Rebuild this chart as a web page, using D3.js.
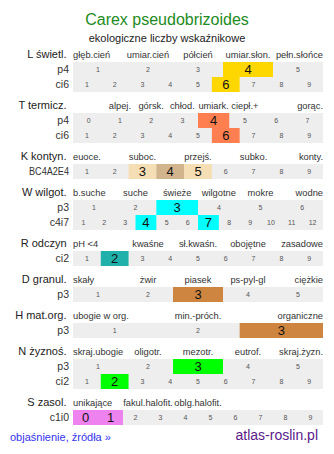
<!DOCTYPE html>
<html>
<head>
<meta charset="utf-8">
<script src="https://cdn.jsdelivr.net/npm/d3@7"></script>
<style>
  html, body { margin: 0; padding: 0; background: #fff; }
  svg { display: block; font-family: "Liberation Sans", Arial, sans-serif; }
</style>
</head>
<body>
<div id="chart"></div>
<script>
// ---- DATA ----
const title = "Carex pseudobrizoides";
const subtitle = "ekologiczne liczby wskaźnikowe";
const sections = ["L świetl.", "T termicz.", "K kontyn.", "W wilgot.", "R odczyn", "D granul.", "H mat.org.", "N żyznoś.", "S zasol."];
const headerL = ["głęb.cień", "umiar.cień", "półcień", "umiar.słon.", "pełn.słońce"];
const headerT = ["", "alpej.", "górsk.", "chłod.", "umiark.", "ciepł.+", "", "gorąc."];
const headerK = ["euoce.", "", "suboc.", "", "przejś.", "", "subko.", "", "konty."];
const headerW = ["b.suche", "suche", "świeże", "wilgotne", "mokre", "wodne"];
const headerR = ["pH <4", "kwaśne", "sł.kwaśn.", "obojętne", "zasadowe"];
const headerD = ["skały", "żwir", "piasek", "ps-pyl-gl", "ciężkie"];
const headerH = ["ubogie w org.", "min.-próch.", "organiczne"];
const headerN = ["skraj.ubogie", "oligotr.", "mezotr.", "eutrof.", "skraj.żyzn."];
const headerS = ["unikające", "fakul.halofit.", "oblg.halofit.", "", ""];
const headers = [headerL, headerT, headerK, headerW, headerR, headerD, headerH, headerN, headerS];

const rowLabels = [["p4", "ci6"], ["p4", "ci6"], ["BC4A2E4"], ["p3", "c4i7"], ["ci2"], ["p3"], ["p3"], ["p3", "ci2"], ["c1i0"]];
// tick label ranges (first, last) of every row
const tickRanges = [[[1, 5], [1, 9]], [[0, 7], [1, 9]], [[1, 9]], [[1, 6], [1, 12]], [[1, 9]], [[1, 5]], [[1, 3]], [[1, 5], [1, 9]], [[0, 9]]];
// indicated values of every row
const values = [[[4], [6]], [[4], [6]], [[4]], [[3], [4, 7]], [[2]], [[3]], [[3]], [[3], [2]], [[0, 1]]];
// secondary (range) values, only continentality
const secondaryValues = [[[], []], [[], []], [[3, 5]], [[], []], [[]], [[]], [[]], [[], []], [[]]];

// ---- STYLE ----
const mainColors = ["#FFD700", "#FF7F50", "#D2B48C", "#00FFFF", "#20B2AA", "#CD853F", "#CD853F", "#00FF00", "#EE82EE"];
const secColors  = ["#FFD700", "#FF7F50", "#F5DEB3", "#00FFFF", "#20B2AA", "#CD853F", "#CD853F", "#00FF00", "#EE82EE"];
const W = 334, H = 454;
const left = 73, right = 323;
const rowH = 15, sectionGap = 21, firstRowY = 62;
const maxRowLabelWidth = 40;

const svg = d3.select("#chart").append("svg").attr("width", W).attr("height", H);

svg.append("text").attr("x", 167).attr("y", 25).attr("text-anchor", "middle")
  .attr("font-size", 16).attr("fill", "#228B22").text(title);
svg.append("text").attr("x", 167).attr("y", 42).attr("text-anchor", "middle")
  .attr("font-size", 11).attr("fill", "#222").text(subtitle);

let y = firstRowY;
sections.forEach((name, i) => {
  const g = svg.append("g");
  const hy = y - 4.5;
  g.append("text").attr("x", 66.5).attr("y", hy).attr("text-anchor", "end")
    .attr("font-size", 11).attr("fill", "#222").text(name);

  const hl = headers[i];
  const hs = d3.scaleBand().domain(d3.range(hl.length)).range([left, right]);
  hl.forEach((t, j) => {
    if (!t) return;
    let anchor = "middle", x = hs(j) + hs.bandwidth() / 2;
    if (j === 0) { anchor = "start"; x = left; }
    else if (j === hl.length - 1) { anchor = "end"; x = right; }
    g.append("text").attr("x", x).attr("y", hy).attr("text-anchor", anchor)
      .attr("font-size", 9.3).attr("fill", "#333").text(t);
  });

  rowLabels[i].forEach((rl, r) => {
    const ry = y + r * rowH;
    const [a, b] = tickRanges[i][r];
    const ticks = d3.range(a, b + 1);
    const xs = d3.scaleBand().domain(ticks).range([left, right]);
    const main = values[i][r];
    const sec = secondaryValues[i][r] || [];
    const isHi = d => main.includes(d) || sec.includes(d);

    g.append("rect").attr("x", left).attr("y", ry).attr("width", right - left)
      .attr("height", rowH).attr("fill", "#EEEEEE");

    g.selectAll(null).data(ticks.filter(isHi)).enter()
      .append("rect")
      .attr("x", d => xs(d)).attr("y", ry)
      .attr("width", xs.bandwidth()).attr("height", rowH)
      .attr("fill", d => main.includes(d) ? mainColors[i] : secColors[i]);

    g.selectAll(null).data(ticks).enter().append("text")
      .attr("x", d => xs(d) + xs.bandwidth() / 2)
      .attr("y", d => isHi(d) ? ry + 12 : ry + 9.5)
      .attr("text-anchor", "middle")
      .attr("font-size", d => isHi(d) ? 13 : 7)
      .attr("fill", d => isHi(d) ? "#111" : "#555")
      .text(d => d);

    const lbl = g.append("text").attr("x", 69).attr("y", ry + 11).attr("text-anchor", "end")
      .attr("font-size", 10.5).attr("fill", "#333").text(rl);
    const len = lbl.node().getComputedTextLength();
    if (len > maxRowLabelWidth) {
      lbl.attr("textLength", maxRowLabelWidth).attr("lengthAdjust", "spacingAndGlyphs");
    }
  });

  y += rowLabels[i].length * rowH + sectionGap;
});

svg.append("text").attr("x", 10).attr("y", 441).attr("font-size", 11)
  .attr("fill", "#3333EE").text("objaśnienie, źródła »");
svg.append("text").attr("x", 318).attr("y", 440).attr("text-anchor", "end")
  .attr("font-size", 14).attr("fill", "#5A1A8A").text("atlas-roslin.pl");
</script>
</body>
</html>
